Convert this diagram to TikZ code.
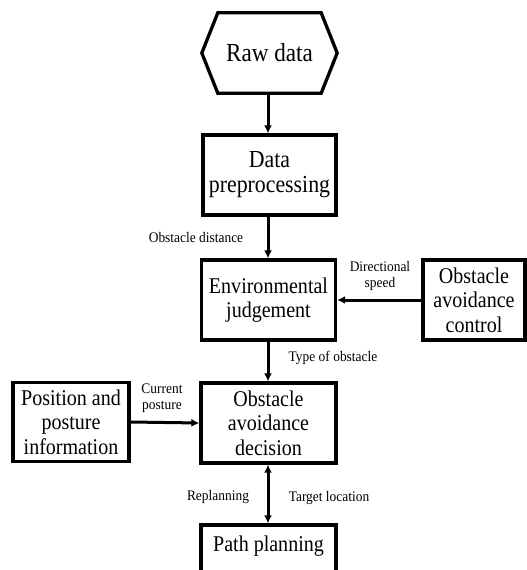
\documentclass[tikz,border=0pt]{standalone}
\usepackage{fontspec}
\setmainfont{Liberation Serif}
\newfontfamily\boxfont[FakeStretch=0.89]{Liberation Serif}
\newfontfamily\lblfont[FakeStretch=0.92]{Liberation Serif}
\usetikzlibrary{arrows.meta}
\begin{document}
\begin{tikzpicture}[x=1pt,y=-1pt,
  box/.style={draw, line width=3.3pt, align=center, inner sep=0pt,
    font=\boxfont\fontsize{22.5}{24.5}\selectfont},
  lbl/.style={align=center, inner sep=0pt, font=\lblfont\fontsize{14.6}{16.5}\selectfont},
  arr/.style={line width=3pt, -{Latex[length=8pt,width=8pt]}},
  darr/.style={line width=3pt, {Latex[length=8pt,width=8pt]}-{Latex[length=8pt,width=8pt]}}]
\useasboundingbox (0,0) rectangle (527,570);
% raw data hexagon
\node[align=center, inner sep=0pt, minimum width=135pt, minimum height=80pt,
  font=\boxfont\fontsize{26}{28}\selectfont] (raw) at (269.5,53) {Raw data};
\draw[line width=3.3pt, line join=miter] (raw.west) -- ([xshift=16pt]raw.north west) -- ([xshift=-16pt]raw.north east)
  -- (raw.east) -- ([xshift=-16pt]raw.south east) -- ([xshift=16pt]raw.south west) -- cycle;
\node[box, minimum width=133pt, minimum height=80pt, font=\boxfont\fontsize{24.5}{25}\selectfont] (prep) at (269.5,175) {Data\\preprocessing};
\node[box, minimum width=134pt, minimum height=80pt] (env) at (268.5,300) {Environmental\\judgement};
\node[box, minimum width=102pt, minimum height=80pt] (ctrl) at (474,300) {Obstacle\\avoidance\\control};
\node[box, minimum width=135pt, minimum height=80pt] (dec) at (268.5,423) {Obstacle\\avoidance\\decision};
\node[box, minimum width=116pt, minimum height=79pt] (pos) at (71,422) {Position and\\posture\\information};
\node[box, minimum width=135pt, minimum height=50pt] (path) at (268.5,550) {};
\node[font=\boxfont\fontsize{22.5}{24}\selectfont, inner sep=0pt] (pathtxt) at (268.5,546) {Path planning};
% connectors
\draw[arr] (raw.south -| 268,0) -- (prep.north -| 268,0);
\draw[arr] (prep.south -| 268,0) -- (env.north -| 268,0);
\draw[arr] (env.south -| 268,0) -- (dec.north -| 268,0);
\draw[arr] (ctrl.west) -- (env.east);
\draw[arr] (pos.east) -- (dec.west);
\draw[darr] (dec.south -| 268,0) -- (path.north -| 268,0);
% labels
\node[lbl] (l1) at (196,238) {Obstacle distance};
\node[lbl] (l2) at (380,276) {Directional\\speed};
\node[lbl] (l3) at (333,358) {Type of obstacle};
\node[lbl] (l4) at (162,398) {Current\\posture};
\node[lbl] (l5) at (218,497) {Replanning};
\node[lbl] (l6) at (329,498) {Target location};
\end{tikzpicture}
\end{document}
